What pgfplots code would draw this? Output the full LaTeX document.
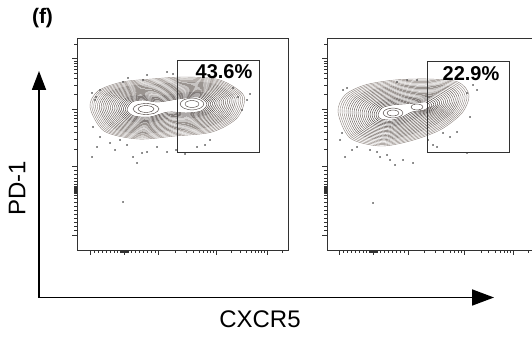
\documentclass[border=0pt]{standalone}
\usepackage{pgfplots}
\pgfplotsset{compat=1.18}
\usetikzlibrary{arrows.meta}
\usepackage{fontspec}
\setmainfont{Liberation Sans}
\definecolor{cA}{RGB}{140,130,125}
\definecolor{cB}{RGB}{100,90,85}
\definecolor{cC}{RGB}{65,56,52}
\definecolor{dotc}{RGB}{60,60,60}
\definecolor{frame}{RGB}{50,50,50}
\pgfplotsset{
  ring/.style={smooth cycle, line width=0.42pt, draw=#1},
  dots/.style={only marks, mark=*, mark size=0.5pt, color=dotc},
  gate/.style={line width=0.8pt, draw=frame},
  panel/.style={
    anchor=south west, width=211pt, height=212pt, scale only axis,
    ymin=38, ymax=250, y dir=reverse,
    axis line style={line width=0.8pt, frame},
    xtick pos=left, ytick pos=left, tick align=outside,
    major tick length=5pt, minor tick length=3pt,
    tick style={line width=0.6pt, frame},
    xticklabels={}, yticklabels={},
    ytick={58,109,166,235},
    minor ytick={44,61,63,66,69,73,78,85,94,112,115,118,122,126,132,139,149,170,174,178,181,184,186,187,188,189,190,191,192,193,195,198,202,206,210,214,218,222,226,230},
  }
}
\begin{document}
\begin{tikzpicture}
\useasboundingbox (0,0) rectangle (532pt,339pt);
\clip (0,0) rectangle (532pt,339pt);
% ---------------- panel 1 ----------------
\begin{axis}[panel, at={(77pt,89pt)}, xmin=77, xmax=288,
  xtick={90,124,158,216,267},
  minor xtick={94,98,102,106,110,114,117,120,121,122,123,125,126,127,128,131,135,139,143,147,151,155,175,186,193,199,203,207,210,213,231,240,246,251,255,258,261,264,282}]
\addplot[ring=cA] coordinates {(90,107) (98,91) (122,82) (152,79) (185,77) (220,80) (244,96) (237,118) (212,132) (175,136) (138,139) (104,131)};
\addplot[ring=cA] coordinates {(91.85,107.15) (99.7,91.55) (123.05,82.9) (152.3,80.15) (184.65,78.1) (218.9,80.85) (242.15,96.4) (235.2,117.65) (210.7,131.05) (174.65,134.8) (138.6,137.9) (105.5,130.25)};
\addplot[ring=cA] coordinates {(93.7,107.3) (101.4,92.1) (124.1,83.8) (152.6,81.3) (184.3,79.2) (217.8,81.7) (240.3,96.8) (233.4,117.3) (209.4,130.1) (174.3,133.6) (139.2,136.8) (107,129.5)};
\addplot[ring=cA] coordinates {(95.55,107.45) (103.1,92.65) (125.15,84.7) (152.9,82.45) (183.95,80.3) (216.7,82.55) (238.45,97.2) (231.6,116.95) (208.1,129.15) (173.95,132.4) (139.8,135.7) (108.5,128.75)};
\addplot[ring=cA] coordinates {(97.4,107.6) (104.8,93.2) (126.2,85.6) (153.2,83.6) (183.6,81.4) (215.6,83.4) (236.6,97.6) (229.8,116.6) (206.8,128.2) (173.6,131.2) (140.4,134.6) (110,128)};
\addplot[ring=cB] coordinates {(99.25,107.75) (106.5,93.75) (127.25,86.5) (153.5,84.75) (183.25,82.5) (214.5,84.25) (234.75,98) (228,116.25) (205.5,127.25) (173.25,130) (141,133.5) (111.5,127.25)};
\addplot[ring=cB] coordinates {(101.1,107.9) (108.2,94.3) (128.3,87.4) (153.8,85.9) (182.9,83.6) (213.4,85.1) (232.9,98.4) (226.2,115.9) (204.2,126.3) (172.9,128.8) (141.6,132.4) (113,126.5)};
\addplot[ring=cB] coordinates {(102.95,108.05) (109.9,94.85) (129.35,88.3) (154.1,87.05) (182.55,84.7) (212.3,85.95) (231.05,98.8) (224.4,115.55) (202.9,125.35) (172.55,127.6) (142.2,131.3) (114.5,125.75)};
\addplot[ring=cB] coordinates {(104.8,108.2) (111.6,95.4) (130.4,89.2) (154.4,88.2) (182.2,85.8) (211.2,86.8) (229.2,99.2) (222.6,115.2) (201.6,124.4) (172.2,126.4) (142.8,130.2) (116,125)};
\addplot[ring=cB] coordinates {(106.65,108.35) (113.3,95.95) (131.45,90.1) (154.7,89.35) (181.85,86.9) (210.1,87.65) (227.35,99.6) (220.8,114.85) (200.3,123.45) (171.85,125.2) (143.4,129.1) (117.5,124.25)};
\addplot[ring=cB] coordinates {(108.5,108.5) (115,96.5) (132.5,91) (155,90.5) (181.5,88) (209,88.5) (225.5,100) (219,114.5) (199,122.5) (171.5,124) (144,128) (119,123.5)};
\addplot[ring=cB] coordinates {(110.35,108.65) (116.7,97.05) (133.55,91.9) (155.3,91.65) (181.15,89.1) (207.9,89.35) (223.65,100.4) (217.2,114.15) (197.7,121.55) (171.15,122.8) (144.6,126.9) (120.5,122.75)};
\addplot[ring=cB] coordinates {(112.2,108.8) (118.4,97.6) (134.6,92.8) (155.6,92.8) (180.8,90.2) (206.8,90.2) (221.8,100.8) (215.4,113.8) (196.4,120.6) (170.8,121.6) (145.2,125.8) (122,122)};
\addplot[ring=cB] coordinates {(114.05,108.95) (120.1,98.15) (135.65,93.7) (155.9,93.95) (180.45,91.3) (205.7,91.05) (219.95,101.2) (213.6,113.45) (195.1,119.65) (170.45,120.4) (145.8,124.7) (123.5,121.25)};
\addplot[ring=cB] coordinates {(115.9,109.1) (121.8,98.7) (136.7,94.6) (156.2,95.1) (180.1,92.4) (204.6,91.9) (218.1,101.6) (211.8,113.1) (193.8,118.7) (170.1,119.2) (146.4,123.6) (125,120.5)};
\addplot[ring=cC] coordinates {(117.75,109.25) (123.5,99.25) (137.75,95.5) (156.5,96.25) (179.75,93.5) (203.5,92.75) (216.25,102) (210,112.75) (192.5,117.75) (169.75,118) (147,122.5) (126.5,119.75)};
\addplot[ring=cC] coordinates {(119.6,109.4) (125.2,99.8) (138.8,96.4) (156.8,97.4) (179.4,94.6) (202.4,93.6) (214.4,102.4) (208.2,112.4) (191.2,116.8) (169.4,116.8) (147.6,121.4) (128,119)};
\addplot[ring=cC] coordinates {(121.45,109.55) (126.9,100.35) (139.85,97.3) (157.1,98.55) (179.05,95.7) (201.3,94.45) (212.55,102.8) (206.4,112.05) (189.9,115.85) (169.05,115.6) (148.2,120.3) (129.5,118.25)};
\addplot[ring=cC] coordinates {(123.3,109.7) (128.6,100.9) (140.9,98.2) (157.4,99.7) (178.7,96.8) (200.2,95.3) (210.7,103.2) (204.6,111.7) (188.6,114.9) (168.7,114.4) (148.8,119.2) (131,117.5)};
\addplot[ring=cC] coordinates {(125.15,109.85) (130.3,101.45) (141.95,99.1) (157.7,100.85) (178.35,97.9) (199.1,96.15) (208.85,103.6) (202.8,111.35) (187.3,113.95) (168.35,113.2) (149.4,118.1) (132.5,116.75)};
\addplot[ring=cC] coordinates {(127,110) (132,102) (143,100) (158,102) (178,99) (198,97) (207,104) (201,111) (186,113) (168,112) (150,117) (134,116)};
\addplot[ring=cC] coordinates {(133,109) (137,105) (146,103.5) (155,105) (159,109) (155,113) (146,114.5) (137,113)};
\addplot[ring=cC] coordinates {(138,109) (140.5,106.5) (146,105.5) (151.5,106.5) (154,109) (151.5,111.5) (146,112.5) (140.5,111.5)};
\addplot[ring=cC] coordinates {(180,104) (183.5,100) (192,98) (200.5,100) (204,104) (200.5,108) (192,110) (183.5,108)};
\addplot[ring=cC] coordinates {(185,104) (187,101.5) (192,100.5) (197,101.5) (199,104) (197,106.5) (192,107.5) (187,106.5)};
\addplot[dots] coordinates {(92,93) (96,97) (100,90) (97,147) (92,157) (110,143) (120,140) (133,157) (137,163) (142,153) (147,152) (157,147) (167,152) (185,154) (197,147) (233,88) (238,97) (247,100) (242,110) (123,82) (143,80) (167,72) (173,74) (147,75) (95,100) (93,127) (100,137) (127,145) (123,202) (210,140) (176,150) (115,150) (250,94) (205,145) (128,78)};
\addplot[gate] coordinates {(177,60) (259,60) (259,152) (177,152) (177,60)};
\end{axis}
% ---------------- panel 2 ----------------
\begin{axis}[panel, at={(327pt,89pt)}, xmin=327, xmax=538,
  xtick={339,373,408,464,513},
  minor xtick={343,347,351,355,359,363,366,369,370,371,372,374,375,376,377,380,384,388,392,396,400,404,424,435,443,450,454,458,461,481,488,495,500,504,507,510,528}]
\addplot[ring=cA] coordinates {(338,112) (345,95) (365,85) (395,80) (428,79) (458,82) (469,95) (462,113) (440,130) (410,141) (380,146) (350,138)};
\addplot[ring=cA] coordinates {(340,112.15) (346.85,95.65) (366.35,86) (395.4,81.2) (427.4,80.2) (456.4,83) (467.05,95.55) (460.1,112.85) (438.6,129.1) (409.6,139.8) (380.6,144.7) (351.55,137.05)};
\addplot[ring=cA] coordinates {(342,112.3) (348.7,96.3) (367.7,87) (395.8,82.4) (426.8,81.4) (454.8,84) (465.1,96.1) (458.2,112.7) (437.2,128.2) (409.2,138.6) (381.2,143.4) (353.1,136.1)};
\addplot[ring=cA] coordinates {(344,112.45) (350.55,96.95) (369.05,88) (396.2,83.6) (426.2,82.6) (453.2,85) (463.15,96.65) (456.3,112.55) (435.8,127.3) (408.8,137.4) (381.8,142.1) (354.65,135.15)};
\addplot[ring=cA] coordinates {(346,112.6) (352.4,97.6) (370.4,89) (396.6,84.8) (425.6,83.8) (451.6,86) (461.2,97.2) (454.4,112.4) (434.4,126.4) (408.4,136.2) (382.4,140.8) (356.2,134.2)};
\addplot[ring=cB] coordinates {(348,112.75) (354.25,98.25) (371.75,90) (397,86) (425,85) (450,87) (459.25,97.75) (452.5,112.25) (433,125.5) (408,135) (383,139.5) (357.75,133.25)};
\addplot[ring=cB] coordinates {(350,112.9) (356.1,98.9) (373.1,91) (397.4,87.2) (424.4,86.2) (448.4,88) (457.3,98.3) (450.6,112.1) (431.6,124.6) (407.6,133.8) (383.6,138.2) (359.3,132.3)};
\addplot[ring=cB] coordinates {(352,113.05) (357.95,99.55) (374.45,92) (397.8,88.4) (423.8,87.4) (446.8,89) (455.35,98.85) (448.7,111.95) (430.2,123.7) (407.2,132.6) (384.2,136.9) (360.85,131.35)};
\addplot[ring=cB] coordinates {(354,113.2) (359.8,100.2) (375.8,93) (398.2,89.6) (423.2,88.6) (445.2,90) (453.4,99.4) (446.8,111.8) (428.8,122.8) (406.8,131.4) (384.8,135.6) (362.4,130.4)};
\addplot[ring=cB] coordinates {(356,113.35) (361.65,100.85) (377.15,94) (398.6,90.8) (422.6,89.8) (443.6,91) (451.45,99.95) (444.9,111.65) (427.4,121.9) (406.4,130.2) (385.4,134.3) (363.95,129.45)};
\addplot[ring=cB] coordinates {(358,113.5) (363.5,101.5) (378.5,95) (399,92) (422,91) (442,92) (449.5,100.5) (443,111.5) (426,121) (406,129) (386,133) (365.5,128.5)};
\addplot[ring=cB] coordinates {(360,113.65) (365.35,102.15) (379.85,96) (399.4,93.2) (421.4,92.2) (440.4,93) (447.55,101.05) (441.1,111.35) (424.6,120.1) (405.6,127.8) (386.6,131.7) (367.05,127.55)};
\addplot[ring=cB] coordinates {(362,113.8) (367.2,102.8) (381.2,97) (399.8,94.4) (420.8,93.4) (438.8,94) (445.6,101.6) (439.2,111.2) (423.2,119.2) (405.2,126.6) (387.2,130.4) (368.6,126.6)};
\addplot[ring=cB] coordinates {(364,113.95) (369.05,103.45) (382.55,98) (400.2,95.6) (420.2,94.6) (437.2,95) (443.65,102.15) (437.3,111.05) (421.8,118.3) (404.8,125.4) (387.8,129.1) (370.15,125.65)};
\addplot[ring=cB] coordinates {(366,114.1) (370.9,104.1) (383.9,99) (400.6,96.8) (419.6,95.8) (435.6,96) (441.7,102.7) (435.4,110.9) (420.4,117.4) (404.4,124.2) (388.4,127.8) (371.7,124.7)};
\addplot[ring=cC] coordinates {(368,114.25) (372.75,104.75) (385.25,100) (401,98) (419,97) (434,97) (439.75,103.25) (433.5,110.75) (419,116.5) (404,123) (389,126.5) (373.25,123.75)};
\addplot[ring=cC] coordinates {(370,114.4) (374.6,105.4) (386.6,101) (401.4,99.2) (418.4,98.2) (432.4,98) (437.8,103.8) (431.6,110.6) (417.6,115.6) (403.6,121.8) (389.6,125.2) (374.8,122.8)};
\addplot[ring=cC] coordinates {(372,114.55) (376.45,106.05) (387.95,102) (401.8,100.4) (417.8,99.4) (430.8,99) (435.85,104.35) (429.7,110.45) (416.2,114.7) (403.2,120.6) (390.2,123.9) (376.35,121.85)};
\addplot[ring=cC] coordinates {(374,114.7) (378.3,106.7) (389.3,103) (402.2,101.6) (417.2,100.6) (429.2,100) (433.9,104.9) (427.8,110.3) (414.8,113.8) (402.8,119.4) (390.8,122.6) (377.9,120.9)};
\addplot[ring=cC] coordinates {(376,114.85) (380.15,107.35) (390.65,104) (402.6,102.8) (416.6,101.8) (427.6,101) (431.95,105.45) (425.9,110.15) (413.4,112.9) (402.4,118.2) (391.4,121.3) (379.45,119.95)};
\addplot[ring=cC] coordinates {(378,115) (382,108) (392,105) (403,104) (416,103) (426,102) (430,106) (424,110) (412,112) (402,117) (392,120) (381,119)};
\addplot[ring=cC] coordinates {(383,113) (386,109.5) (393,108) (400,109.5) (403,113) (400,116.5) (393,118) (386,116.5)};
\addplot[ring=cC] coordinates {(387,113) (388.8,110.9) (393,110) (397.2,110.9) (399,113) (397.2,115.1) (393,116) (388.8,115.1)};
\addplot[ring=cC] coordinates {(411,107) (412.8,104.9) (417,104) (421.2,104.9) (423,107) (421.2,109.1) (417,110) (412.8,109.1)};
\addplot[dots] coordinates {(343,90) (347,88) (342,133) (345,157) (357,147) (370,150) (377,152) (380,157) (387,155) (390,160) (395,165) (403,160) (413,163) (433,145) (437,147) (443,133) (450,137) (457,132) (467,153) (470,117) (477,90) (473,85) (467,93) (373,203) (407,80) (417,80) (397,82) (340,140) (352,150) (428,140)};
\addplot[gate] coordinates {(427,61) (509,61) (509,152) (427,152) (427,61)};
\end{axis}
% ---------------- annotations ----------------
\node[font=\fontsize{20}{24}\selectfont\bfseries] at (224pt,267pt) {43.6\%};
\node[font=\fontsize{20}{24}\selectfont\bfseries] at (471pt,265pt) {22.9\%};
\node[font=\fontsize{21}{24}\selectfont\bfseries] at (42.5pt,321pt) {(f)};
\draw[line width=1.8pt, line join=miter, {Triangle[length=19pt,width=14pt]}-{Triangle[length=22pt,width=16pt]}]
  (39pt,268pt) -- (39pt,41.5pt) -- (494pt,41.5pt);
\node[font=\fontsize{24}{28}\selectfont] at (260pt,20pt) {CXCR5};
\node[font=\fontsize{24}{28}\selectfont, rotate=90] at (17pt,151pt) {PD-1};
\end{tikzpicture}
\end{document}
